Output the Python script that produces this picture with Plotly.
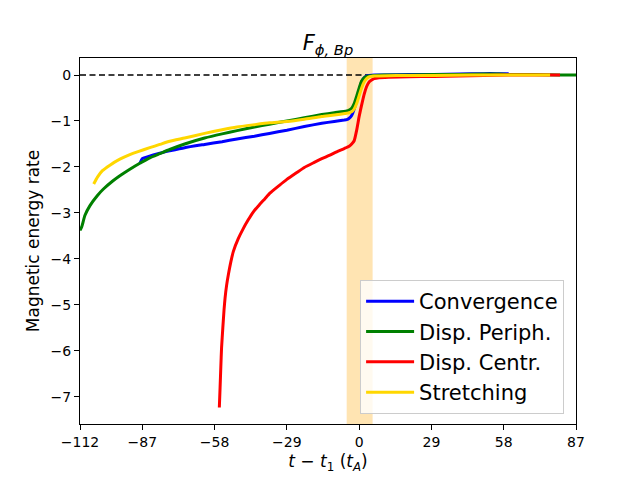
import plotly.graph_objects as go

# ---- data ----
conv_x = [-88, -87, -85, -80, -76, -70, -62, -55, -49, -42, -36, -29, -22, -15, -10, -6, -5, -4, -3, -2, -1, 0, 1, 2, 3, 4, 6, 10, 20, 30, 40, 50, 55, 60]
conv_y = [-1.93, -1.82, -1.78, -1.70, -1.65, -1.58, -1.51, -1.45, -1.39, -1.33, -1.27, -1.20, -1.12, -1.05, -1.01, -0.98, -0.97, -0.94, -0.88, -0.74, -0.55, -0.33, -0.15, -0.06, -0.02, -0.01, 0.0, 0.0, 0.01, 0.01, 0.02, 0.03, 0.03, 0.03]

peri_x = [-112, -111.3, -110, -108, -105, -102.6, -99, -96, -92, -88, -84, -80, -76, -70, -62, -55, -49, -42, -36, -29, -22, -15, -10, -5, -4, -3, -2, -1, 0, 1, 2, 3, 4, 6, 10, 20, 30, 40, 50, 56, 60, 70, 80, 87]
peri_y = [-3.38, -3.30, -3.05, -2.84, -2.62, -2.48, -2.31, -2.19, -2.05, -1.92, -1.80, -1.71, -1.62, -1.50, -1.37, -1.28, -1.21, -1.13, -1.07, -1.00, -0.93, -0.86, -0.82, -0.78, -0.76, -0.72, -0.62, -0.46, -0.28, -0.13, -0.06, -0.03, -0.02, -0.01, 0.0, 0.0, 0.01, 0.01, 0.02, 0.02, 0.01, 0.01, 0.0, 0.0]

cent_x = [-56.1, -55.8, -55.5, -55.2, -54.7, -54.2, -53.8, -53.2, -52.5, -51.5, -50.5, -48.5, -46.5, -44.5, -42.5, -40, -37.8, -35.8, -32, -29, -25, -22, -18, -15, -12, -9, -6, -4, -3, -2, -1, 0, 1, 2, 3, 4, 5, 6, 8, 12, 20, 30, 40, 50, 60, 70, 80.6]
cent_y = [-7.23, -6.80, -6.35, -5.93, -5.50, -5.10, -4.85, -4.58, -4.35, -4.07, -3.84, -3.56, -3.34, -3.15, -2.98, -2.82, -2.69, -2.57, -2.40, -2.27, -2.12, -2.01, -1.90, -1.82, -1.75, -1.67, -1.60, -1.55, -1.50, -1.43, -1.20, -0.90, -0.65, -0.42, -0.25, -0.15, -0.11, -0.08, -0.06, -0.05, -0.04, -0.03, -0.02, -0.01, 0.0, 0.0, 0.0]

str_x = [-106.5, -105, -103, -100, -96, -92, -89, -84, -80, -76, -70, -62, -55, -49, -42, -36, -29, -22, -15, -10, -5, -4, -3, -2, -1, 0, 1, 2, 3, 4, 5, 6, 8, 15, 30, 45, 60, 70, 76.6]
str_y = [-2.37, -2.22, -2.08, -1.96, -1.83, -1.73, -1.67, -1.58, -1.51, -1.44, -1.37, -1.27, -1.19, -1.13, -1.08, -1.04, -1.01, -0.96, -0.90, -0.87, -0.83, -0.82, -0.80, -0.74, -0.62, -0.45, -0.28, -0.15, -0.08, -0.04, -0.03, -0.02, -0.02, -0.01, -0.01, 0.0, 0.0, 0.0, 0.0]

band = [-5.0, 5.4]
x_ticks = [-112, -87, -58, -29, 0, 29, 58, 87]
y_ticks = [0, -1, -2, -3, -4, -5, -6, -7]

series = [
    ("Convergence", conv_x, conv_y, "#0000ff"),
    ("Disp. Periph.", peri_x, peri_y, "#008000"),
    ("Disp. Centr.", cent_x, cent_y, "#ff0000"),
    ("Stretching", str_x, str_y, "#ffd700"),
]

def fmt(v):
    return str(v).replace("-", "\u2212")

fig = go.Figure()
fig.add_vrect(x0=band[0], x1=band[1], fillcolor="rgba(255,165,0,0.3)",
              line_width=0, layer="below")
fig.add_hline(y=0, line=dict(color="black", width=1.4, dash="6px,3.5px"), layer="below")

for name, xs, ys, col in series:
    fig.add_trace(go.Scatter(x=xs, y=ys, mode="lines", name=name,
                             line=dict(color=col, width=3, shape="spline", smoothing=0.5)))

# page body has an 8px margin; figure is sized so the plot box lands where the reference's does
W, H = 632, 472
font = "DejaVu Sans, sans-serif"
fig.update_layout(
    width=W, height=H,
    margin=dict(l=72, r=64, t=50, b=53),
    paper_bgcolor="white", plot_bgcolor="white",
    font=dict(family=font, color="black", size=14),
    title=dict(text="<i>F</i><sub><i>ϕ, Bp</i></sub>", x=0.5, xref="paper",
               y=1 - 35 / H, yref="container", xanchor="center", yanchor="middle",
               font=dict(size=21, family=font)),
    showlegend=True,
    legend=dict(x=0.976, y=0.027, xanchor="right", yanchor="bottom",
                bgcolor="rgba(255,255,255,0.8)", bordercolor="#cccccc", borderwidth=1,
                font=dict(size=21, family=font), tracegroupgap=0, itemwidth=48),
)
fig.update_xaxes(range=[-112, 87], tickvals=x_ticks, ticktext=[fmt(v) for v in x_ticks],
                 showgrid=False, zeroline=False, showline=True, mirror=True,
                 linecolor="black", linewidth=1, ticks="outside", ticklen=5,
                 tickcolor="black", tickfont=dict(size=14),
                 title=dict(text="<i>t</i> − <i>t</i><sub>1</sub> (<i>t<sub>A</sub></i>)",
                            font=dict(size=17), standoff=6))
fig.update_yaxes(range=[-7.59, 0.37], tickvals=y_ticks, ticktext=[fmt(v) for v in y_ticks],
                 showgrid=False, zeroline=False, showline=True, mirror=True,
                 linecolor="black", linewidth=1, ticks="outside", ticklen=5,
                 tickcolor="black", tickfont=dict(size=14),
                 title=dict(text="Magnetic energy rate", font=dict(size=17), standoff=6))

fig.write_html("out.html")
